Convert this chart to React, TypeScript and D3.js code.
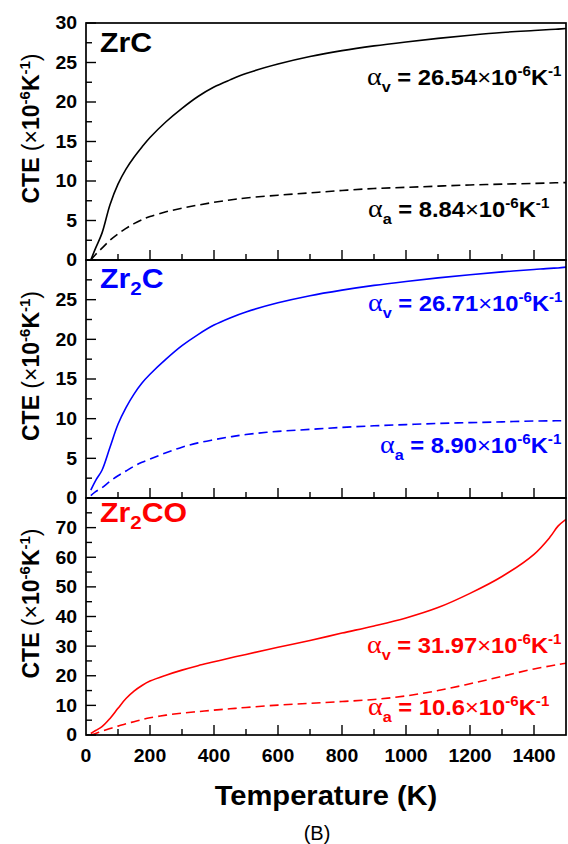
import React from "react";
import * as d3 from "d3";

// Temperatures (K) at which the curves were read
const temps = [15, 30, 50, 75, 100, 125, 150, 175, 200, 250, 300, 350, 400, 450, 500, 600, 700, 800, 900, 1000, 1100, 1200, 1300, 1400, 1450, 1475, 1500];

// ZrC
const zrcAlphaV = [0, 1.5, 3.4, 7.0, 9.6, 11.5, 13.0, 14.3, 15.5, 17.5, 19.2, 20.7, 21.9, 22.8, 23.6, 24.8, 25.75, 26.5, 27.1, 27.6, 28.05, 28.45, 28.8, 29.05, 29.17, 29.23, 29.3];
const zrcAlphaA = [0, 0.7, 1.5, 2.5, 3.3, 4.0, 4.6, 5.1, 5.5, 6.1, 6.55, 6.95, 7.3, 7.6, 7.85, 8.2, 8.5, 8.8, 9.05, 9.2, 9.35, 9.5, 9.6, 9.7, 9.75, 9.78, 9.8];
// Zr2C
const zr2cAlphaV = [1.0, 2.2, 3.5, 6.4, 9.3, 11.4, 13.1, 14.5, 15.6, 17.5, 19.2, 20.6, 21.8, 22.7, 23.45, 24.6, 25.5, 26.2, 26.8, 27.3, 27.75, 28.15, 28.5, 28.8, 28.95, 29.0, 29.1];
const zr2cAlphaA = [0.3, 0.8, 1.3, 2.1, 2.8, 3.4, 4.0, 4.5, 4.9, 5.7, 6.4, 6.95, 7.35, 7.7, 8.0, 8.4, 8.65, 8.9, 9.1, 9.25, 9.4, 9.5, 9.6, 9.7, 9.72, 9.74, 9.75];
// Zr2CO
const zr2coAlphaV = [0.5, 1.5, 2.8, 5.6, 9.0, 12.3, 14.8, 16.7, 18.2, 20.2, 21.9, 23.4, 24.7, 26.0, 27.2, 29.6, 31.9, 34.4, 36.8, 39.5, 43.0, 47.8, 53.5, 61.0, 66.8, 70.5, 72.8];
const zr2coAlphaA = [0, 0.5, 1.3, 2.2, 3.0, 3.8, 4.5, 5.2, 5.8, 6.7, 7.4, 7.9, 8.4, 8.85, 9.3, 10.1, 10.7, 11.3, 12.0, 13.2, 15.0, 17.3, 19.8, 22.3, 23.3, 23.8, 24.2];

// Annotation values
const alphaVTexts = ["26.54", "26.71", "31.97"];
const alphaATexts = ["8.84", "8.90", "10.6"];

// Axis ticks
const xTickLabels = [0, 200, 400, 600, 800, 1000, 1200, 1400];
const yTicksTop = [0, 5, 10, 15, 20, 25, 30];
const yTicksMid = [0, 5, 10, 15, 20, 25];
const yTicksBot = [0, 10, 20, 30, 40, 50, 60, 70];

const W = 568;
const H = 844;
const L = 86;
const R = 566;
const SX = 1.08;
const FONT = "'Liberation Sans', Arial, Helvetica, sans-serif";
const SERIF = "'Liberation Serif', 'Times New Roman', serif";

const panels = [
  { base: "Zr", sub: "", tail: "C", color: "#000000", top: 23, bottom: 260, max: 30, minor: 2.5, ticks: yTicksTop,
    v: zrcAlphaV, a: zrcAlphaA, vText: alphaVTexts[0], aText: alphaATexts[0], vX: 367, vY: 85, aX: 368, aY: 217, labelY: 52 },
  { base: "Zr", sub: "2", tail: "C", color: "#0000ff", top: 260, bottom: 498, max: 30, minor: 2.5, ticks: yTicksMid,
    v: zr2cAlphaV, a: zr2cAlphaA, vText: alphaVTexts[1], aText: alphaATexts[1], vX: 368, vY: 311, aX: 380, aY: 453, labelY: 288 },
  { base: "Zr", sub: "2", tail: "CO", color: "#ff0000", top: 498, bottom: 735, max: 80, minor: 5, ticks: yTicksBot,
    v: zr2coAlphaV, a: zr2coAlphaA, vText: alphaVTexts[2], aText: alphaATexts[2], vX: 367, vY: 653, aX: 368, aY: 715, labelY: 522 },
];

const x = d3.scaleLinear().domain([0, 1500]).range([L, R]);

function Anno({ px, py, color, sub, value }: any) {
  return (
    <text transform={`translate(${px},${py}) scale(${SX},1)`} fill={color} fontSize={22} fontWeight="bold" fontFamily={FONT}>
      <tspan fontFamily={SERIF} fontWeight="normal" fontSize={26}>α</tspan>
      <tspan fontSize={15} dy={7}>{sub}</tspan>
      <tspan dy={-7}>{" = " + value}</tspan>
      <tspan fontWeight="normal">×</tspan>
      <tspan>10</tspan>
      <tspan fontSize={14} dy={-9}>-6</tspan>
      <tspan dy={9}>K</tspan>
      <tspan fontSize={14} dy={-9}>-1</tspan>
    </text>
  );
}

function Panel({ p }: any) {
  const y = d3.scaleLinear().domain([0, p.max]).range([p.bottom, p.top]);
  const line = d3
    .line<number>()
    .x((_, i) => x(temps[i]))
    .y((d) => y(d))
    .curve(d3.curveCatmullRom.alpha(0.5));
  const yMinor = d3.range(0, p.max + 0.001, p.minor);
  const xMinor = d3.range(100, 1500, 100);
  const cy = (p.top + p.bottom) / 2 - 13;
  return (
    <g>
      <defs>
        <clipPath id={`clip-${p.top}`}>
          <rect x={L} y={p.top} width={R - L} height={p.bottom - p.top} />
        </clipPath>
      </defs>
      <g clipPath={`url(#clip-${p.top})`}>
        <path d={line(p.v) || ""} fill="none" stroke={p.color} strokeWidth={1.6} />
        <path d={line(p.a) || ""} fill="none" stroke={p.color} strokeWidth={1.6} strokeDasharray="9,5" />
      </g>
      {yMinor.map((t: number) => {
        const major = p.ticks.includes(t) || Math.abs(t - p.max) < 1e-6;
        return <line key={"y" + t} x1={L} x2={L + (major ? 10 : 6)} y1={y(t)} y2={y(t)} stroke="#000" strokeWidth={1.4} />;
      })}
      {xMinor.map((t: number) => (
        <line key={"x" + t} x1={x(t)} x2={x(t)} y1={p.bottom} y2={p.bottom - (t % 200 === 0 ? 10 : 6)} stroke="#000" strokeWidth={1.4} />
      ))}
      {p.ticks.map((t: number) => (
        <text key={"yl" + t} transform={`translate(${L - 9},${y(t)}) scale(${SX},1)`} dy="0.36em" textAnchor="end"
          fontSize={18} fontWeight="bold" fontFamily={FONT}>{t}</text>
      ))}
      <rect x={L} y={p.top} width={R - L} height={p.bottom - p.top} fill="none" stroke="#000" strokeWidth={1.7} />
      <text transform={`translate(100,${p.labelY}) scale(${SX},1)`} fill={p.color} fontSize={28} fontWeight="bold" fontFamily={FONT}>
        {p.base}
        {p.sub ? <tspan fontSize={19} dy={7}>{p.sub}</tspan> : null}
        <tspan dy={p.sub ? -7 : 0}>{p.tail}</tspan>
      </text>
      <Anno px={p.vX} py={p.vY} color={p.color} sub="v" value={p.vText} />
      <Anno px={p.aX} py={p.aY} color={p.color} sub="a" value={p.aText} />
      <text transform={`translate(39,${cy}) rotate(-90)`} textAnchor="middle" fontSize={23} fontWeight="bold" fontFamily={FONT}>
        CTE <tspan fontWeight="normal">(×</tspan>10
        <tspan fontSize={15} dy={-9}>-6</tspan>
        <tspan dy={9}>K</tspan>
        <tspan fontSize={15} dy={-9}>-1</tspan>
        <tspan dy={9} fontWeight="normal">)</tspan>
      </text>
    </g>
  );
}

export default function App() {
  return (
    <svg width={W} height={H} style={{ position: "absolute", left: 0, top: 0 }} fontFamily={FONT}>
      <rect width={W} height={H} fill="#ffffff" />
      {panels.map((p, i) => (
        <Panel key={i} p={p} />
      ))}
      {xTickLabels.map((t) => (
        <text key={t} transform={`translate(${x(t)},762) scale(${SX},1)`} textAnchor="middle" fontSize={18} fontWeight="bold">{t}</text>
      ))}
      <text transform={`translate(${(L + R) / 2},805) scale(1.04,1)`} textAnchor="middle" fontSize={28} fontWeight="bold">Temperature (K)</text>
      <text x={317} y={840} textAnchor="middle" fontSize={20}>(B)</text>
    </svg>
  );
}
